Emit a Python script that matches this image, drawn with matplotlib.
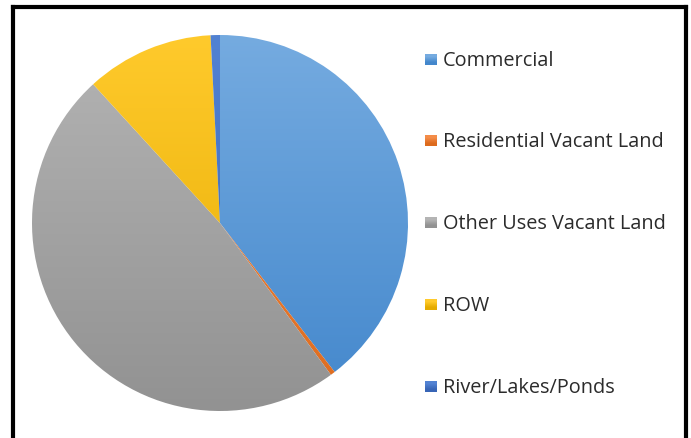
import numpy as np
import matplotlib.pyplot as plt
from matplotlib.colors import to_rgb
from matplotlib.lines import Line2D

labels = ['Commercial', 'Residential Vacant Land', 'Other Uses Vacant Land', 'ROW', 'River/Lakes/Ponds']
shares = [39.6, 0.4, 48.3, 11.0, 0.8]
colors = ['#5b9bd5', '#ed7d31', '#a5a5a5', '#ffc000', '#4472c4']
# light (top) and dark (bottom) ends of each slice's gradient
tops = ['#75abe0', '#f48c48', '#b4b4b4', '#ffca2c', '#5282d2']
bottoms = ['#4387cc', '#dd6b1e', '#929292', '#e5ab00', '#3865b6']

fig = plt.figure(figsize=(6.91, 4.38), dpi=100)
ax = fig.add_axes([0.0, 0.0, 1.0, 1.0])

# y axis runs downward (pixel-like coords), so counterclock here reads clockwise on screen
cx, cy, r = 220, 223, 188
wedges, _ = ax.pie(shares, colors=colors, startangle=-90, counterclock=True,
                   radius=r, center=(cx, cy), frame=True)
ax.set_xlim(0, 691)
ax.set_ylim(438, 0)
ax.set_aspect('equal')
ax.axis('off')

t = np.linspace(0, 1, 256)[:, None, None]
for w, c0, c1 in zip(wedges, tops, bottoms):
    a, b = np.array(to_rgb(c0)), np.array(to_rgb(c1))
    img = a * (1 - t) + b * t
    im = ax.imshow(img, extent=(cx - r, cx + r, cy + r, cy - r), aspect='auto',
                   interpolation='bilinear', zorder=w.get_zorder() + 0.1)
    im.set_clip_path(w)
    w.set_facecolor('none')
    w.set_edgecolor('none')

# legend entries
ys = [60, 141, 223, 305, 387]
for lab, c0, c1, y in zip(labels, tops, bottoms, ys):
    sq = np.array([to_rgb(c0), to_rgb(c1)])[:, None, :]
    ax.imshow(sq, extent=(425, 437, y + 5, y - 6), aspect='auto', interpolation='bilinear', zorder=5)
    ax.text(443, y + 1, lab, fontsize=14.3, family='Open Sans', color='#2b2b2b', va='center', ha='left')

ax.set_xlim(0, 691)
ax.set_ylim(438, 0)

# outer frame (left, top, right)
frame = dict(color='black', lw=3, solid_capstyle='projecting')
fig.add_artist(Line2D([13 / 691, 13 / 691], [0, 1 - 7 / 438], transform=fig.transFigure, **frame))
fig.add_artist(Line2D([13 / 691, 686 / 691], [1 - 7 / 438, 1 - 7 / 438], transform=fig.transFigure, **frame))
fig.add_artist(Line2D([686 / 691, 686 / 691], [0, 1 - 7 / 438], transform=fig.transFigure, **frame))

fig.savefig('out.png', dpi=100)
